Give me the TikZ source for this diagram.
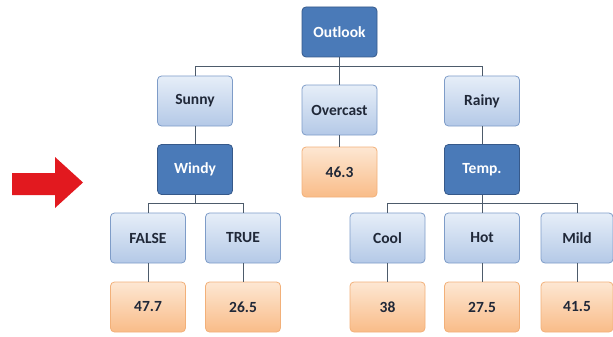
\documentclass[tikz,border=0pt]{standalone}
\usepackage{fontspec}
\setmainfont{Carlito}
\definecolor{darkfill}{HTML}{4A7AB8}
\definecolor{darkline}{HTML}{36598A}
\definecolor{lighttop}{HTML}{E6EEF8}
\definecolor{lightbot}{HTML}{B4C9E7}
\definecolor{lightline}{HTML}{7E9CC8}
\definecolor{valtop}{HTML}{FDE7D3}
\definecolor{valbot}{HTML}{F9BC88}
\definecolor{valline}{HTML}{F2B079}
\definecolor{connline}{HTML}{4D5B6B}
\definecolor{labeltext}{HTML}{202838}
\definecolor{arrowred}{HTML}{E2191F}
\tikzset{
  treenode/.style = {align=center, inner sep=0pt, text centered, rounded corners=4pt,
                     minimum width=75pt, minimum height=50pt, line width=0.8pt,
                     font=\fontsize{15.5}{19}\selectfont\bfseries},
  box_d/.style = {treenode, draw=darkline, fill=darkfill, text=white},
  box_l/.style = {treenode, draw=lightline, top color=lighttop, bottom color=lightbot, text=labeltext},
  box_v/.style = {treenode, draw=valline, top color=valtop, bottom color=valbot, text=labeltext},
  conn/.style = {draw=connline, line width=0.9pt},
}

\begin{document}
\begin{tikzpicture}[x=1pt, y=-1pt]
  \useasboundingbox (0,0) rectangle (613,337);
  % levels
  \node [box_d] (outlook) at (339.5,32) {Outlook};
  \node [box_l] (sunny) at (195,101) {Sunny};
  \node [box_l] (overcast) at (339.5,110) {Overcast};
  \node [box_l] (rainy) at (482,101) {Rainy};
  \node [box_d] (windy) at (195,169.5) {Windy};
  \node [box_v] (v463) at (339.5,172) {46.3};
  \node [box_d] (temp) at (482,169.5) {Temp.};
  \node [box_l] (false) at (148,238) {FALSE};
  \node [box_l] (true) at (243,238) {TRUE};
  \node [box_l] (cool) at (387.5,238) {Cool};
  \node [box_l] (hot) at (482,238) {Hot};
  \node [box_l, minimum width=72pt] (mild) at (577,238) {Mild};
  \node [box_v] (v477) at (148,307) {47.7};
  \node [box_v] (v265) at (243,307) {26.5};
  \node [box_v] (v38) at (387.5,307) {38};
  \node [box_v] (v275) at (482,307) {27.5};
  \node [box_v, minimum width=72pt] (v415) at (577,307) {41.5};
  \coordinate (bus1) at (0,66.5);
  \coordinate (bus2) at (0,203.5);
  % connectors
  \draw [conn] (outlook.south) -- (overcast.north);
  \draw [conn] (sunny.north) |- (rainy.north |- bus1) -- (rainy.north);
  \draw [conn] (sunny) -- (windy);
  \draw [conn] (overcast) -- (v463);
  \draw [conn] (rainy) -- (temp);
  \draw [conn] (windy.south) -- (windy.south |- bus2);
  \draw [conn] (false.north) |- (true.north |- bus2) -- (true.north);
  \draw [conn] (temp.south) -- (temp.south |- bus2);
  \draw [conn] (cool.north) |- (mild.north |- bus2) -- (mild.north);
  \draw [conn] (hot.north) -- (hot.north |- bus2);
  \foreach \a/\b in {false/v477, true/v265, cool/v38, hot/v275, mild/v415}
    \draw [conn] (\a) -- (\b);
  % arrow
  \fill [arrowred] (12,173) -- (55,173) -- (55,157) -- (83,182.5)
    -- (55,208) -- (55,195) -- (12,195) -- cycle;
\end{tikzpicture}
\end{document}
